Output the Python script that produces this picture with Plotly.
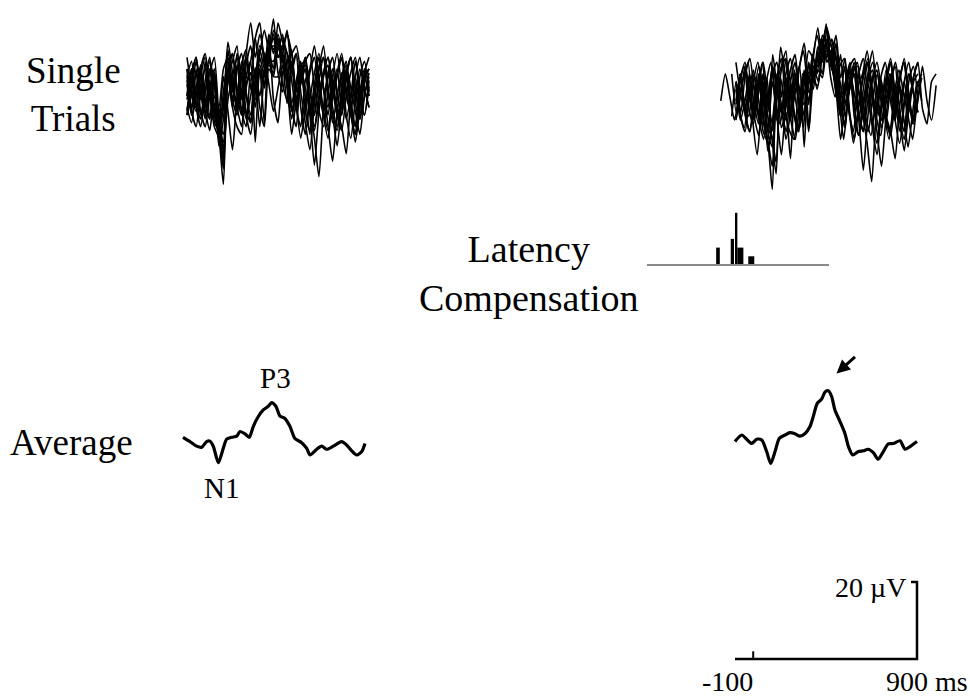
import plotly.graph_objects as go

# ---------------------------------------------------------------- data
# Sample times of the single trials (ms), 25 ms apart
TRIAL_T_MS = list(range(-100, 901, 25))

# Single-trial EEG (µV), one list per trial
TRIAL_01 = [3, -5, 6, -2, 8, -6, -3, -11, -4, 6, 2, -5, 8, 4, 3, 14, 18, 7, 14, -2, -8, 5, 8, -4, -9, 4, 7, -3, -6, 3, 9, 0, -6, -14, -3, 5, 9, -3, -7, 4, 6]
TRIAL_02 = [-6, 3, 9, 0, -7, 3, -8, -4, -16, 4, -2, 7, -2, 10, 18, 9, 15, 9, 2, -5, 1, 7, -3, 6, 10, 0, -8, -15, -3, 7, 1, -6, 4, 10, 1, -7, -1, 8, -1, -6, 3]
TRIAL_03 = [4, 8, -3, -7, 3, 9, -4, -10, -20, 6, 10, 1, -5, -9, 5, 2, 11, 6, 15, 10, 14, 2, -2, 8, -3, -12, -4, 5, 9, 0, -6, 5, -4, -9, 1, 7, 1, -5, -11, -1, 5]
TRIAL_04 = [-4, -8, 1, 7, -3, -7, 5, -9, -3, 13, 5, -5, 7, -1, -8, 6, 7, 2, 10, 19, 9, 10, 1, -7, 1, 7, 8, -4, -12, -22, -4, 5, 9, 0, -6, 4, -5, -13, -4, 4, -1]
TRIAL_05 = [6, -1, -5, 4, 9, 1, -8, -10, -17, 5, -4, -9, -11, 7, 12, 3, 10, 16, 11, 14, 5, 0, 8, 10, -4, -9, 3, 6, 12, 3, -5, -10, 0, 6, -4, 4, 9, 1, -7, 3, 6]
TRIAL_06 = [-1, 6, -4, -9, 0, 8, 2, -14, -7, 5, 10, -1, -6, 4, 8, -13, 5, 2, 11, 12, 11, 15, 6, -3, 3, 8, -5, -10, -1, 6, 12, 1, -8, -1, 5, -6, -12, -2, 6, 1, -4]
TRIAL_07 = [-6, 0, 8, 1, -5, -10, -1, -4, 6, 9, 0, 10, 4, -5, -8, 3, 12, 10, 8, 16, 13, 8, 2, -11, -2, 4, 9, 1, -6, 4, -6, -12, -1, 4, 9, -1, -5, 4, 9, 1, -4]
TRIAL_08 = [4, -5, -9, 0, 6, -1, -9, -12, -24, 6, -2, -6, 4, 9, 1, 5, -1, 6, 7, 5, 13, 11, 16, 5, 10, -4, -11, -2, 5, 10, 1, -9, -18, -5, 4, 8, -4, -9, 4, 8, 0]
TRIAL_09 = [9, 1, -4, 5, -6, 1, 6, -9, 4, -5, -15, -1, 7, 11, 1, -2, 9, 4, 10, 15, 9, 12, 4, 11, -2, 2, 6, -4, -9, -1, 5, 9, 2, -5, -9, -16, -2, 4, -4, 5, 9]
TRIAL_10 = [-2, 5, 9, 0, -4, 6, -5, -11, -18, 4, -4, 6, 10, 0, -6, 2, -9, 5, 10, 6, 18, 13, 10, 3, -5, 3, 6, -6, 2, 9, 1, -4, 4, -6, -10, -1, 5, 9, 0, -6, 1]
TRIAL_11 = [2, -6, -1, 6, -2, -7, 4, -9, -13, 4, 8, 12, -5, 1, 8, 14, 5, 4, 13, 11, 15, 9, 4, -5, 1, 6, 1, -6, -19, -5, 4, 7, -2, 5, 10, 1, -6, -11, -1, 4, 6]
TRIAL_12 = [-5, 4, -4, 6, 10, 1, -6, -11, 0, 8, 1, -4, -9, 2, 5, -4, 6, -8, 8, 8, 12, 14, 10, 7, -3, 3, 8, 10, 1, -5, -9, 0, 6, -1, -6, 4, 9, 1, -7, -1, 4]
TRIAL_13 = [6, -4, 5, -5, -9, -1, 5, -7, -11, 11, 2, -4, 5, -6, -11, 0, 6, 1, 8, 4, 11, 12, 15, 10, 0, 4, 9, -3, -10, -2, 5, 9, 1, -6, -1, 6, -2, -9, 0, 6, 1]
TRIAL_14 = [-1, 6, 0, -6, 0, 5, 9, -6, -15, -2, 4, 9, 0, -7, -1, 6, -4, -9, 6, 4, 4, 10, 15, 10, 12, 5, -1, -11, 0, 6, 9, 0, -6, -10, -1, 5, -5, -11, -2, 4, -1]
TRIALS = [TRIAL_01, TRIAL_02, TRIAL_03, TRIAL_04, TRIAL_05, TRIAL_06, TRIAL_07,
          TRIAL_08, TRIAL_09, TRIAL_10, TRIAL_11, TRIAL_12, TRIAL_13, TRIAL_14]

# Estimated P3 latency of each trial (ms) and the common latency they are aligned to
TRIAL_LATENCY_MS = [290, 290, 369, 369, 369, 390, 390, 390, 390, 390, 390, 413, 413, 473]
ALIGNED_LATENCY_MS = 395

# Latency histogram
HIST_LATENCY_MS = [290, 369, 390, 413, 473]
HIST_BIN_MS = [20, 18, 13, 33, 33]
HIST_COUNT = [2, 3, 6, 2, 1]

# Conventional average (µV)
AVG_T_MS = [-100, -62, -25, 3, 30, 48, 67, 94, 121, 140, 168, 195, 213, 241, 264, 286,
            314, 341, 369, 387, 411, 433, 460, 488, 515, 552, 580, 598, 635, 662, 690,
            726, 772, 799, 827, 854, 882, 900]
AVG_UV = [0.7, -0.4, -1.6, -1.9, -0.4, -0.3, -1.7, -5.9, -2.2, 0.2, 0.7, 1.0, 2.2, 1.6, 0.7, 3.5,
          6.1, 7.8, 8.8, 9.7, 8.7, 6.2, 5.6, 3.5, 0.4, -0.7, -2.2, -3.9, -2.4, -1.6, -2.4,
          -1.6, -0.4, -1.3, -2.8, -3.9, -3.0, -0.9]

# Latency-compensated average (µV)
COMP_T_MS = [-100, -63, -36, -8, 19, 47, 74, 96, 120, 143, 175, 202, 230, 257, 285, 312,
             330, 352, 376, 395, 413, 431, 449, 477, 504, 523, 547, 578, 605, 632, 660,
             687, 715, 742, 770, 807, 834, 862, 900]
COMP_UV = [-0.4, 1.3, 0.2, -0.9, 0.2, 0.0, -3.0, -6.1, -3.0, 0.4, 1.3, 1.9, 1.6, 1.0, 1.7, 3.5,
           6.1, 9.5, 10.6, 12.5, 12.8, 11.3, 7.8, 4.8, 1.7, -1.7, -3.9, -3.0, -2.8, -2.4, -3.3,
           -5.0, -3.0, -1.0, -0.9, -0.2, -2.4, -1.7, -0.4]

# Calibration bar
SCALE_MS = [-100, 900]
SCALE_UV = 20

# ---------------------------------------------------------------- layout helpers
W, H = 970, 699
PX_PER_MS = 0.182
PX_PER_UV = 3.85
INK = "black"
SERIF = "Liberation Serif, Times New Roman, serif"

layout_axes = {}


def panel(n, box, origin, ky=PX_PER_UV):
    """Invisible axis pair n placed in pixel box (x0, x1, ytop, ybot);
    origin = pixel position of (t = -100 ms, value = 0)."""
    x0, x1, yt, yb = box
    ox, oy = origin
    xr = [-100 + (x0 - ox) / PX_PER_MS, -100 + (x1 - ox) / PX_PER_MS]
    yr = [(oy - yb) / ky, (oy - yt) / ky]
    sfx = "" if n == 1 else str(n)
    common = dict(visible=False, fixedrange=True, showgrid=False, zeroline=False)
    layout_axes["xaxis" + sfx] = dict(domain=[x0 / W, x1 / W], range=xr,
                                      anchor="y" + sfx, **common)
    layout_axes["yaxis" + sfx] = dict(domain=[1 - yb / H, 1 - yt / H], range=yr,
                                      anchor="x" + sfx, **common)
    return "x" + sfx, "y" + sfx


ax_trials_l = panel(1, (150, 420, 0, 200), (187, 92))
ax_trials_r = panel(2, (690, 965, 0, 200), (735, 97))
ax_hist = panel(3, (640, 840, 200, 275), (647, 265), ky=8.7)
ax_avg_l = panel(4, (150, 420, 340, 520), (183, 440))
ax_avg_r = panel(5, (690, 965, 340, 520), (735, 440))
ax_scale = panel(6, (690, 965, 560, 699), (735, 659))

fig = go.Figure()

trial_line = dict(color=INK, width=1.6, shape="spline", smoothing=0.6)

# single trials, original timing
for tr in TRIALS:
    fig.add_trace(go.Scatter(x=TRIAL_T_MS, y=tr, mode="lines", line=trial_line,
                             xaxis=ax_trials_l[0], yaxis=ax_trials_l[1], hoverinfo="skip"))

# single trials re-aligned on their P3 latency
for tr, lat in zip(TRIALS, TRIAL_LATENCY_MS):
    shift = ALIGNED_LATENCY_MS - lat
    fig.add_trace(go.Scatter(x=[t + shift for t in TRIAL_T_MS], y=tr, mode="lines",
                             line=trial_line,
                             xaxis=ax_trials_r[0], yaxis=ax_trials_r[1], hoverinfo="skip"))

# latency histogram
fig.add_trace(go.Bar(x=HIST_LATENCY_MS, y=HIST_COUNT, width=HIST_BIN_MS,
                     marker=dict(color=INK, line=dict(width=0)),
                     xaxis=ax_hist[0], yaxis=ax_hist[1], hoverinfo="skip"))
fig.add_trace(go.Scatter(x=SCALE_MS, y=[0, 0], mode="lines",
                         line=dict(color="#8a8a8a", width=2),
                         xaxis=ax_hist[0], yaxis=ax_hist[1], hoverinfo="skip"))

# averages
fig.add_trace(go.Scatter(x=AVG_T_MS, y=AVG_UV, mode="lines",
                         line=dict(color=INK, width=3.2, shape="spline", smoothing=0.7),
                         xaxis=ax_avg_l[0], yaxis=ax_avg_l[1], hoverinfo="skip"))
fig.add_trace(go.Scatter(x=COMP_T_MS, y=COMP_UV, mode="lines",
                         line=dict(color=INK, width=3.2, shape="spline", smoothing=0.7),
                         xaxis=ax_avg_r[0], yaxis=ax_avg_r[1], hoverinfo="skip"))

# calibration bar: time axis, stimulus tick at 0 ms, voltage bar with small hook
t0, t1 = SCALE_MS
fig.add_trace(go.Scatter(x=[t0, t1, t1, t1 - 33], y=[0, 0, SCALE_UV, SCALE_UV], mode="lines",
                         line=dict(color=INK, width=2.5),
                         xaxis=ax_scale[0], yaxis=ax_scale[1], hoverinfo="skip"))
fig.add_trace(go.Scatter(x=[0, 0], y=[0, 2], mode="lines",
                         line=dict(color=INK, width=2),
                         xaxis=ax_scale[0], yaxis=ax_scale[1], hoverinfo="skip"))


def label(text, px, py, size, xanchor="center"):
    return dict(text=text, x=px / W, y=1 - py / H, xref="paper", yref="paper",
                xanchor=xanchor, yanchor="middle", showarrow=False,
                font=dict(family=SERIF, size=size, color=INK))


annotations = [
    label("Single<br>Trials", 73, 95, 37),
    label("Latency<br>Compensation", 529, 273, 38),
    label("Average", 71, 442, 37),
    label("P3", 275, 378, 29),
    label("N1", 221, 488, 29),
    label("20 µV", 908, 587, 28, xanchor="right"),
    label("-100", 727, 681, 28),
    label("900 ms", 927, 681, 28),
    dict(x=836.5 / W, y=1 - 373.5 / H, xref="paper", yref="paper", text="",
         showarrow=True, ax=20, ay=-18, arrowhead=2, arrowsize=0.9, arrowwidth=3,
         arrowcolor=INK),
]

fig.update_layout(width=W, height=H, margin=dict(l=0, r=0, t=0, b=0),
                  paper_bgcolor="white", plot_bgcolor="rgba(0,0,0,0)",
                  showlegend=False, annotations=annotations, **layout_axes)

fig.write_html("out.html", config=dict(displayModeBar=False))
